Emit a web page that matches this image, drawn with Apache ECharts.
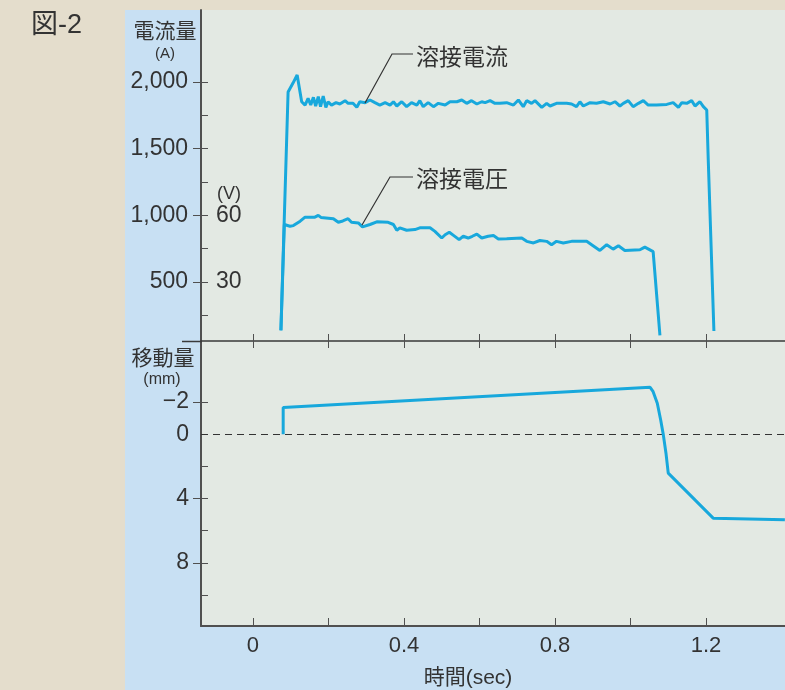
<!DOCTYPE html>
<html><head><meta charset="utf-8">
<script src="https://cdn.jsdelivr.net/npm/echarts@6/dist/echarts.min.js"></script>
<style>html,body{margin:0;padding:0;background:#e4ddcc;}#c{width:785px;height:690px;}</style>
</head><body><div id="c"></div>
<script>
// 溶接電流 (A)
const currentTime = [0.074,0.093,0.106,0.117,0.129,0.138,0.146,0.153,0.160,0.166,0.173,0.179,0.186,0.193,0.199,0.208,0.220,0.230,0.244,0.252,0.265,0.275,0.283,0.297,0.310,0.323,0.336,0.350,0.363,0.372,0.381,0.394,0.407,0.420,0.434,0.442,0.451,0.464,0.478,0.491,0.509,0.522,0.540,0.553,0.566,0.579,0.593,0.606,0.615,0.628,0.641,0.654,0.672,0.690,0.703,0.716,0.725,0.738,0.747,0.765,0.778,0.787,0.804,0.831,0.844,0.857,0.866,0.875,0.893,0.910,0.928,0.946,0.959,0.972,0.981,0.994,1.007,1.021,1.034,1.047,1.069,1.096,1.113,1.127,1.136,1.149,1.162,1.171,1.184,1.193,1.202,1.206,1.221];
const currentAmp = [137,1925,1992,2053,1852,1827,1877,1827,1885,1820,1890,1815,1895,1810,1852,1827,1845,1835,1860,1840,1840,1810,1852,1845,1865,1845,1827,1845,1827,1852,1820,1852,1815,1845,1827,1860,1815,1845,1815,1840,1827,1852,1852,1865,1840,1860,1835,1852,1845,1860,1840,1840,1845,1827,1865,1815,1860,1840,1860,1810,1840,1820,1840,1840,1835,1815,1852,1820,1845,1840,1852,1835,1852,1820,1840,1860,1815,1840,1860,1827,1827,1832,1845,1810,1845,1840,1860,1820,1852,1815,1790,1414,130];
// 溶接電圧 (V)
const voltageTime = [0.074,0.083,0.098,0.107,0.125,0.138,0.164,0.173,0.180,0.213,0.226,0.238,0.252,0.261,0.279,0.290,0.310,0.328,0.358,0.372,0.381,0.389,0.407,0.429,0.442,0.469,0.482,0.500,0.509,0.520,0.532,0.546,0.557,0.570,0.581,0.593,0.606,0.623,0.637,0.650,0.672,0.712,0.725,0.743,0.760,0.778,0.791,0.804,0.822,0.844,0.884,0.897,0.919,0.937,0.954,0.968,0.985,1.025,1.038,1.060,1.078];
const voltageVolt = [8.0,55.8,55.0,55.3,57.3,59.1,59.1,59.9,59.0,58.4,56.8,57.4,58.4,56.8,56.5,54.7,55.8,57.0,56.8,55.8,53.2,54.3,53.2,53.5,54.3,54.3,52.7,49.7,51.2,52.3,50.8,49.0,50.5,49.7,50.5,51.5,49.7,50.5,50.8,49.3,49.4,49.7,48.2,47.5,48.6,48.2,46.7,48.2,47.5,48.2,48.2,46.7,44.1,46.7,44.7,46.2,44.1,44.4,45.6,43.6,5.8];
// 移動量 (mm)
const moveTime = [0.080,0.080,1.052,1.060,1.071,1.080,1.087,1.094,1.100,1.219,1.409];
const moveMm = [0,-1.66,-2.92,-2.65,-1.93,-0.89,0.04,1.18,2.42,5.22,5.32];

const xTickValues = [0,0.2,0.4,0.6,0.8,1.0,1.2];
const xLabelValues = [0,0.4,0.8,1.2];
const ampLabelValues = [500,1000,1500,2000];
const ampInnerTickValues = [250,500,750,1000,1250,1500,1750,2000];
const voltLabelValues = [30,60];
const mmLabelValues = [-2,0,4,8];
const mmMajorTickValues = [-2,4,8];
const mmInnerTickValues = [-2,2,4,6,8,10];

const X_MIN = -0.1377, X_MAX = 1.4093;
const A_MIN = 55, A_MAX = 2541;
const MM_MIN = -5.8, MM_MAX = 11.93;

const FONT = '"Liberation Sans", "Noto Sans CJK JP", sans-serif';
const TXT = '#333333';
const AX = '#505050';
const LINE = '#18a8dc';

const chart = echarts.init(document.getElementById('c'), null, {renderer: 'canvas'});
const pairs = (xs, ys) => xs.map((x, i) => [x, ys[i]]);

function txt(x, y, s, size, align) {
  return {type: 'text', x: x, y: y, z: 50,
    style: {text: s, fill: TXT, font: size + 'px ' + FONT, textAlign: align || 'center', textVerticalAlign: 'middle'}};
}

const option = {
  animation: false,
  backgroundColor: '#e4ddcc',
  textStyle: {fontFamily: FONT},
  grid: [
    {left: 201, top: 10, width: 584, height: 331, show: true, backgroundColor: '#e3e9e3', borderWidth: 0},
    {left: 201, top: 341, width: 584, height: 285, show: true, backgroundColor: '#e3e9e3', borderWidth: 0}
  ],
  xAxis: [
    {gridIndex: 0, type: 'value', min: X_MIN, max: X_MAX, show: false},
    {gridIndex: 1, type: 'value', position: 'bottom', min: X_MIN, max: X_MAX,
      axisLine: {show: true, onZero: false, lineStyle: {color: AX, width: 2}},
      axisTick: {show: true, inside: true, length: 8, customValues: xTickValues, lineStyle: {color: AX, width: 1}},
      axisLabel: {show: true, customValues: xLabelValues, margin: 9, fontSize: 22, color: TXT, fontFamily: FONT},
      splitLine: {show: false}},
    {gridIndex: 1, type: 'value', position: 'top', min: X_MIN, max: X_MAX,
      axisLine: {show: true, onZero: false, lineStyle: {color: '#3a3a3a', width: 1.5}},
      axisTick: {show: true, inside: false, length: 7, customValues: xTickValues, lineStyle: {color: AX, width: 1}},
      axisLabel: {show: false}, splitLine: {show: false}},
    {gridIndex: 1, type: 'value', position: 'top', min: X_MIN, max: X_MAX,
      axisLine: {show: false, onZero: false},
      axisTick: {show: true, inside: true, length: 7, customValues: xTickValues, lineStyle: {color: AX, width: 1}},
      axisLabel: {show: false}, splitLine: {show: false}}
  ],
  yAxis: [
    {gridIndex: 0, type: 'value', position: 'left', min: A_MIN, max: A_MAX,
      axisLine: {show: true, onZero: false, lineStyle: {color: AX, width: 2}},
      axisTick: {show: true, inside: false, length: 8, customValues: ampLabelValues, lineStyle: {color: AX, width: 1}},
      axisLabel: {show: true, customValues: ampLabelValues, margin: 13, fontSize: 23, color: TXT, fontFamily: FONT,
        formatter: v => v.toLocaleString('en-US')},
      splitLine: {show: false}},
    {gridIndex: 0, type: 'value', position: 'left', min: A_MIN, max: A_MAX,
      axisLine: {show: false, onZero: false},
      axisTick: {show: true, inside: true, length: 7, customValues: ampInnerTickValues, lineStyle: {color: AX, width: 1}},
      axisLabel: {show: false}, splitLine: {show: false}},
    {gridIndex: 0, type: 'value', position: 'left', min: A_MIN * 0.06, max: A_MAX * 0.06,
      axisLine: {show: false, onZero: false}, axisTick: {show: false},
      axisLabel: {show: true, inside: true, customValues: voltLabelValues, margin: 15, fontSize: 23, color: TXT, fontFamily: FONT},
      splitLine: {show: false}},
    {gridIndex: 1, type: 'value', position: 'left', inverse: true, min: MM_MIN, max: MM_MAX,
      axisLine: {show: true, onZero: false, lineStyle: {color: AX, width: 2}},
      axisTick: {show: true, inside: false, length: 8, customValues: mmMajorTickValues, lineStyle: {color: AX, width: 1}},
      axisLabel: {show: true, customValues: mmLabelValues, margin: 12, fontSize: 23, color: TXT, fontFamily: FONT,
        formatter: v => (v < 0 ? '\u2212' + Math.abs(v) : String(v))},
      splitLine: {show: false}},
    {gridIndex: 1, type: 'value', position: 'left', inverse: true, min: MM_MIN, max: MM_MAX,
      axisLine: {show: false, onZero: false},
      axisTick: {show: true, inside: true, length: 7, customValues: mmInnerTickValues, lineStyle: {color: AX, width: 1}},
      axisLabel: {show: false}, splitLine: {show: false}}
  ],
  series: [
    {name: '溶接電流', type: 'line', xAxisIndex: 0, yAxisIndex: 0, data: pairs(currentTime, currentAmp),
      showSymbol: false, symbol: 'none', lineStyle: {color: LINE, width: 3}, itemStyle: {color: LINE}, z: 5},
    {name: '溶接電圧', type: 'line', xAxisIndex: 0, yAxisIndex: 2, data: pairs(voltageTime, voltageVolt),
      showSymbol: false, symbol: 'none', lineStyle: {color: LINE, width: 3}, itemStyle: {color: LINE}, z: 5},
    {name: '移動量', type: 'line', xAxisIndex: 1, yAxisIndex: 3, data: pairs(moveTime, moveMm),
      showSymbol: false, symbol: 'none', lineStyle: {color: LINE, width: 3}, itemStyle: {color: LINE}, z: 5,
      markLine: {silent: true, symbol: 'none', label: {show: false},
        lineStyle: {color: '#333', width: 1, type: [7, 5]}, data: [{yAxis: 0}]}}
  ],
  graphic: [
    {type: 'rect', z: -10, shape: {x: 125, y: 10, width: 660, height: 680}, style: {fill: '#c8e0f3'}},
    {type: 'line', z: 40, shape: {x1: 182, y1: 341.5, x2: 202, y2: 341.5}, style: {stroke: '#3a3a3a', lineWidth: 1.5}},
    txt(31, 26, '図-2', 27, 'left'),
    txt(165, 32, '電流量', 21),
    txt(165, 54, '(A)', 15),
    txt(229, 194, '(V)', 18),
    txt(163, 359, '移動量', 21),
    txt(162, 380, '(mm)', 16),
    txt(468, 678, '時間(sec)', 21),
    txt(416, 59, '溶接電流', 23, 'left'),
    txt(416, 181, '溶接電圧', 23, 'left'),
    {type: 'polyline', z: 40, shape: {points: [[365, 103], [392, 54], [413, 54]]}, style: {stroke: '#333', lineWidth: 1.2, fill: null}},
    {type: 'polyline', z: 40, shape: {points: [[362, 225], [390, 177], [413, 177]]}, style: {stroke: '#333', lineWidth: 1.2, fill: null}}
  ]
};
chart.setOption(option);
</script>
</body></html>
